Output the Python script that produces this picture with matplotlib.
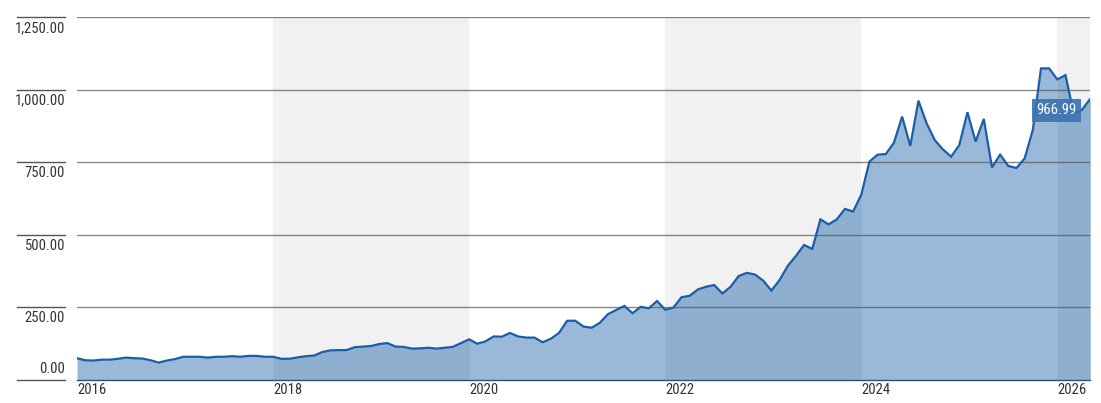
import numpy as np
import matplotlib
matplotlib.use('Agg')
from matplotlib import pyplot as plt
from matplotlib import transforms
from matplotlib import font_manager

# pick a narrow face if one is installed
names = set(f.name for f in font_manager.fontManager.ttflist)
narrow = None
for cand in ['Liberation Sans Narrow', 'Arial Narrow', 'Roboto Condensed',
             'DejaVu Sans Condensed', 'Open Sans Condensed', 'Noto Sans Display']:
    if cand in names:
        narrow = cand
        break
plt.rcParams['font.family'] = ([narrow] if narrow else []) + ['DejaVu Sans']
fsize = 10.5 if narrow else 9.5

# monthly values, Jan 2016 .. May 2026
values_2016 = [75, 68, 67, 70, 70, 73, 77, 75, 74, 68, 60, 67]
values_2017 = [72, 80, 80, 80, 77, 80, 80, 82, 80, 83, 83, 80]
values_2018 = [80, 73, 73, 78, 82, 84, 96, 102, 103, 103, 113, 115]
values_2019 = [117, 124, 127, 115, 114, 108, 109, 111, 108, 111, 114, 127]
values_2020 = [140, 125, 133, 150, 149, 162, 150, 146, 146, 130, 142, 162]
values_2021 = [204, 204, 184, 180, 197, 227, 241, 255, 230, 252, 247, 272]
values_2022 = [242, 249, 285, 290, 312, 321, 327, 298, 321, 358, 369, 363]
values_2023 = [342, 308, 344, 393, 427, 465, 451, 553, 536, 553, 589, 580]
values_2024 = [638, 752, 776, 778, 817, 907, 806, 962, 884, 826, 794, 769]
values_2025 = [809, 922, 821, 899, 732, 776, 737, 730, 763, 861, 1073, 1073]
values_2026 = [1035, 1050, 918, 930, 966.99]

values = np.array(values_2016 + values_2017 + values_2018 + values_2019 + values_2020
                  + values_2021 + values_2022 + values_2023 + values_2024 + values_2025
                  + values_2026, dtype=float)
dates = 2016 + np.arange(len(values)) / 12.0

year_ticks = [2016, 2018, 2020, 2022, 2024, 2026]
shaded_years = [(2018, 2020), (2022, 2024), (2026, dates[-1])]
y_ticks = [0, 250, 500, 750, 1000, 1250]
y_labels = ['0.00', '250.00', '500.00', '750.00', '1,000.00', '1,250.00']
last_label = '966.99'

fill_light = '#9ab9d9'
fill_dark = '#8eafcf'
band_color = '#f1f1f1'
line_color = '#1b5ea8'

fig = plt.figure(figsize=(11.01, 4.03), dpi=100)
ax = fig.add_axes([77 / 1101, 23 / 403, (1090 - 77) / 1101, (380 - 17) / 403])

for a, b in shaded_years:
    ax.axvspan(a, b, color=band_color, lw=0, zorder=0)

ax.fill_between(dates, values, 0, color=fill_light, lw=0, zorder=1)
for a, b in shaded_years:
    mask = (dates >= a - 1e-9) & (dates <= b + 1e-9)
    ax.fill_between(dates, values, 0, where=mask, color=fill_dark, lw=0, zorder=1)

for yt in y_ticks[1:]:
    ax.axhline(yt, color='#555555', alpha=0.7, lw=1, zorder=2)

ax.plot(dates, values, color=line_color, lw=1.6, zorder=3, solid_joinstyle='miter')

ax.set_xlim(2016, dates[-1])
ax.set_ylim(0, 1250)

for s in ['top', 'right', 'left']:
    ax.spines[s].set_visible(False)
ax.spines['bottom'].set_color('#2e4f73')
ax.spines['bottom'].set_linewidth(1)
ax.set_yticks([])
ax.set_xticks(year_ticks)
ax.set_xticklabels([])
ax.tick_params(axis='x', length=0)

# year labels, left-aligned at each tick
for yr in year_ticks:
    ax.text(yr, -0.008, str(yr), transform=ax.get_xaxis_transform(), ha='left', va='top',
            fontsize=fsize, color='#333333')

# left label column with its own short grid lines
trans = transforms.blended_transform_factory(fig.transFigure, ax.transData)
for yt, lab in zip(y_ticks, y_labels):
    ax.plot([17 / 1101, 65 / 1101], [yt, yt], transform=trans, color='#555555',
            lw=1, clip_on=False)
    if yt == 0:
        ax.text(65 / 1101, yt + 14, lab, transform=trans, ha='right', va='bottom',
                fontsize=fsize, color='#333333')
    else:
        ax.text(65 / 1101, yt - 14, lab, transform=trans, ha='right', va='top',
                fontsize=fsize, color='#333333')

# last value tag
ax.annotate(last_label, xy=(dates[-1], values[-1]), xytext=(-24, -8),
            textcoords='offset points', ha='center', va='center', fontsize=fsize,
            color='white', zorder=5,
            bbox=dict(boxstyle='square,pad=0.3', fc='#3d74b1', ec='none', alpha=0.92))

plt.savefig('out.png', dpi=100)
